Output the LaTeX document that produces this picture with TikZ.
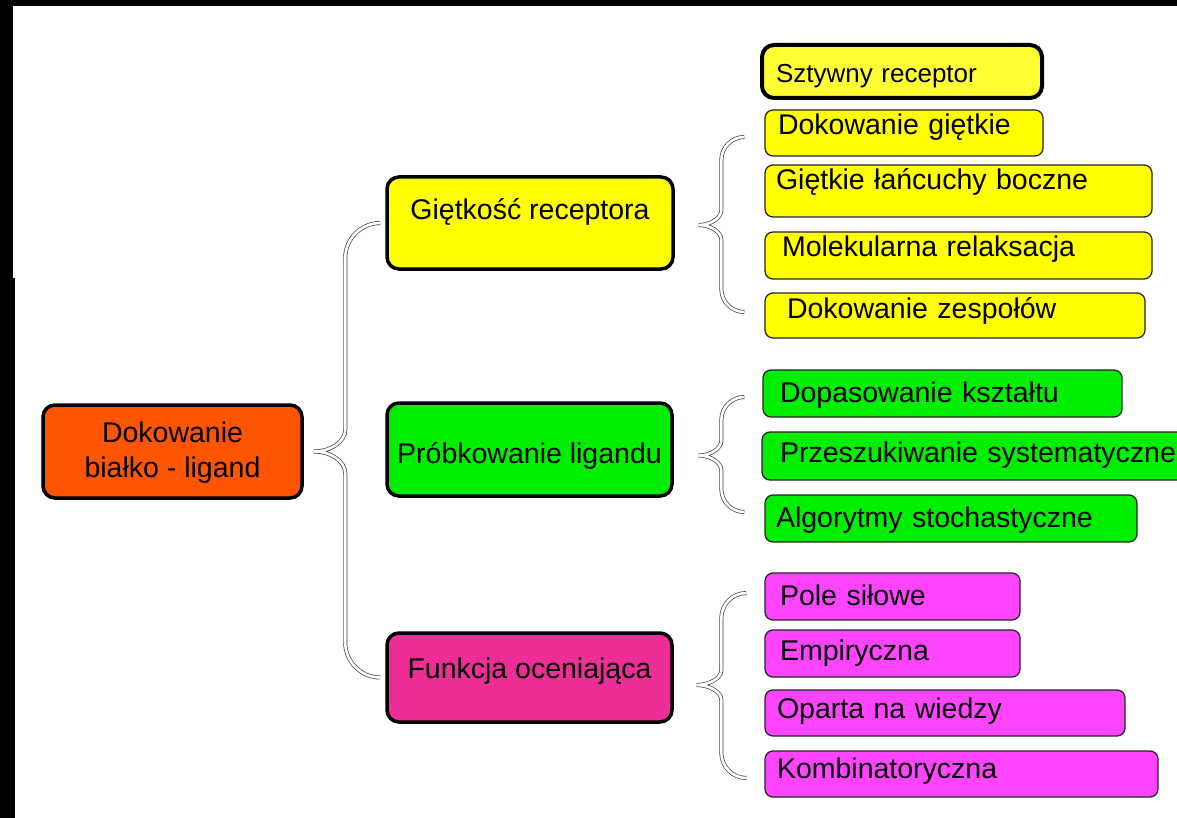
\documentclass[tikz,border=0pt]{standalone}
\usepackage{fontspec}
\setmainfont{Liberation Sans}
\usetikzlibrary{calc}
\definecolor{cOrange}{HTML}{FF5500}
\definecolor{cYellow}{HTML}{FFFF00}
\definecolor{cYellowL}{HTML}{FFFF33}
\definecolor{cGreen}{HTML}{00EE00}
\definecolor{cPink}{HTML}{EE2D96}
\definecolor{cMagenta}{HTML}{FF44FF}
\tikzset{
  mainbox/.style={draw=black, line width=3.5pt, rounded corners=12pt, inner sep=0pt,
    align=center, font=\fontsize{28.5}{35}\selectfont, text height=28pt},
  childbox/.style={draw=black!85, line width=1.3pt, rounded corners=8pt, inner ysep=0pt,
    align=left, font=\fontsize{28.5}{34}\selectfont, text height=25pt},
  brace/.style={draw=black!75, line width=0.7pt, double=white, double distance=2.6pt},
}
% #1 top end, #2 tip, #3 bottom end, #4 hook radius, #5 tip half height
\newcommand{\mybrace}[5]{%
  \draw[brace] (#1) .. controls +(-0.55*#4,0) and +(0,-0.55*#4) .. ($(#1)+(-#4,#4)$)
    -- ($(#2-|#1)+(-#4,-#5)$) .. controls +(0,0.55*#5) and +(0.5*#4,0) .. (#2)
    .. controls +(0.5*#4,0) and +(0,-0.55*#5) .. ($(#2-|#1)+(-#4,#5)$)
    -- ($(#3)+(-#4,-#4)$) .. controls +(0,0.55*#4) and +(-0.55*#4,0) .. (#3);}
\begin{document}
\begin{tikzpicture}[x=1pt,y=-1pt]
\useasboundingbox (0,0) rectangle (1177,818);
\clip (0,0) rectangle (1177,818);
\fill[white] (0,0) rectangle (1177,818);
% black frame remains
\fill[black] (0,0) rectangle (1177,6);
\fill[black] (0,0) rectangle (13,278);
\fill[black] (0,278) rectangle (15,818);

% main boxes
\node[mainbox, fill=cOrange, minimum width=259pt, minimum height=93pt, text height=63pt,
  text depth=12pt] (root) at (172.5,451.5) {Dokowanie\\białko - ligand};
\node[mainbox, fill=cYellow, minimum width=286pt, minimum height=92pt, text depth=34pt]
  (gr) at (530,223) {Giętkość receptora};
\node[mainbox, fill=cGreen, minimum width=285pt, minimum height=93pt, text depth=1pt]
  (pl) at (529.5,449.5) {Próbkowanie ligandu};
\node[mainbox, fill=cPink, minimum width=285pt, minimum height=89pt, text depth=27pt]
  (fo) at (529.5,677.5) {Funkcja oceniająca};

% yellow children
\node[childbox, draw=black, line width=4pt, rounded corners=12pt, fill=cYellowL,
  font=\fontsize{26}{30}\selectfont, inner xsep=14pt, text width=252pt,
  minimum height=53pt, text depth=2pt] (sr) at (902,71.5) {Sztywny receptor};
\node[childbox, fill=cYellow, inner xsep=13pt, text width=252pt, minimum height=46pt,
  text depth=21pt] (dg) at (904,133) {Dokowanie giętkie};
\node[childbox, fill=cYellow, inner xsep=11pt, text width=365pt, minimum height=52pt,
  text depth=27pt] (gl) at (958.5,191) {Giętkie łańcuchy boczne};
\node[childbox, fill=cYellow, inner xsep=17pt, text width=353pt, minimum height=45pt,
  text depth=22pt] (mr) at (958.5,255.5) {Molekularna relaksacja};
\node[childbox, fill=cYellow, inner xsep=22pt, text width=336pt, minimum height=45pt,
  text depth=20pt] (dz) at (955,315.5) {Dokowanie zespołów};

% green children
\node[childbox, fill=cGreen, inner xsep=17pt, text width=325pt, minimum height=47pt,
  text depth=8pt] (dk) at (942.5,393.5) {Dopasowanie kształtu};
\node[childbox, fill=cGreen, inner xsep=18pt, text width=402pt, minimum height=48pt,
  text depth=13pt] (ps) at (981,456) {Przeszukiwanie systematyczne};
\node[childbox, fill=cGreen, inner xsep=11pt, text width=350pt, minimum height=47pt,
  text depth=8pt] (as) at (951,518.5) {Algorytmy stochastyczne};

% magenta children
\node[childbox, fill=cMagenta, inner xsep=15pt, text width=225pt, minimum height=47pt,
  text depth=8pt] (pf) at (892.5,596.5) {Pole siłowe};
\node[childbox, fill=cMagenta, inner xsep=15pt, text width=225pt, minimum height=47pt,
  text depth=12pt] (em) at (892.5,653.5) {Empiryczna};
\node[childbox, fill=cMagenta, inner xsep=12pt, text width=336pt, minimum height=46pt,
  text depth=15pt] (ow) at (945,713) {Oparta na wiedzy};
\node[childbox, fill=cMagenta, inner xsep=12pt, text width=369pt, minimum height=46pt,
  text depth=17pt] (ko) at (961.5,774) {Kombinatoryczna};

% brace end points
\coordinate (m1) at ($(gr.west)+(-5,0)$);
\coordinate (m2) at ($(root.east)+(10,0)$);
\coordinate (m3) at ($(fo.west)+(-5,0)$);
\coordinate (y1) at ($(dg.west)+(-20,4)$);
\coordinate (y2) at ($(gr.east)+(24,2)$);
\coordinate (y3) at ($(dz.west)+(-20,-3.5)$);
\coordinate (g1) at ($(dk.west)+(-18,3.5)$);
\coordinate (g2) at ($(pl.east)+(25,6)$);
\coordinate (g3) at ($(as.west)+(-20,-6.5)$);
\coordinate (p1) at ($(pf.west)+(-18,-3.5)$);
\coordinate (p2) at ($(fo.east)+(23,7.5)$);
\coordinate (p3) at ($(ko.west)+(-18,4)$);

\mybrace{m1}{m2}{m3}{35}{22}
\mybrace{y1}{y2}{y3}{23}{15}
\mybrace{g1}{g2}{g3}{23}{15}
\mybrace{p1}{p2}{p3}{25}{15}
\end{tikzpicture}
\end{document}
